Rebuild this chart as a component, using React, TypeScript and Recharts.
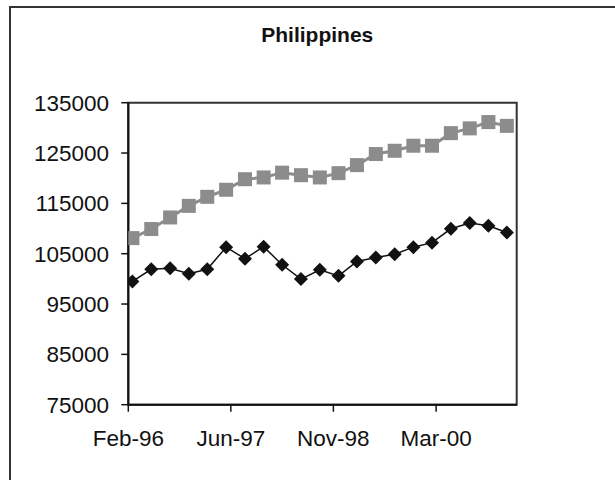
import React from "react"
import { LineChart, Line, XAxis, YAxis, ReferenceArea } from "recharts"

// quarterly observations; the first one sits just left of the axis start
const quarters = [
  "1995-12", "1996-03", "1996-06", "1996-09", "1996-12",
  "1997-03", "1997-06", "1997-09", "1997-12",
  "1998-03", "1998-06", "1998-09", "1998-12",
  "1999-03", "1999-06", "1999-09", "1999-12",
  "2000-03", "2000-06", "2000-09", "2000-12",
  "2001-03",
]

const graySeries = [
  106200, 108100, 109900, 112200, 114500,
  116300, 117700, 119800, 120150,
  121100, 120600, 120150, 121000,
  122600, 124800, 125450, 126450,
  126450, 128950, 129900, 131150,
  130400,
]

const blackSeries = [
  96600, 99500, 101900, 102100, 101000,
  101900, 106300, 104000, 106400,
  102800, 99950, 101800, 100600,
  103450, 104250, 104900, 106300,
  107200, 109950, 111100, 110550,
  109200,
]

const tickLabels = ["Feb-96", "Jun-97", "Nov-98", "Mar-00"]
const tickDates = ["1996-02-10", "1997-06-24", "1998-11-06", "2000-03-21"]
const yTicks = [75000, 85000, 95000, 105000, 115000, 125000, 135000]

const axisStart = Date.parse("1996-02-10")
const axisEnd = Date.parse("2001-04-18")
const tickValues = tickDates.map((d) => Date.parse(d))

const data = quarters.map((q, i) => ({
  t: Date.parse(q + "-01"),
  gray: graySeries[i],
  black: blackSeries[i],
}))

const GRAY = "#8c8c8c"
const INK = "#111"
const FONT = "'Liberation Sans', Arial, sans-serif"

const Square = (props: any) => {
  const { cx, cy, index, payload } = props
  if (cx == null || payload.t < axisStart) return <g key={`sq-${index}`} />
  return <rect key={`sq-${index}`} x={cx - 7} y={cy - 7} width={14} height={14} fill={GRAY} />
}

const Diamond = (props: any) => {
  const { cx, cy, index, payload } = props
  if (cx == null || payload.t < axisStart) return <g key={`dm-${index}`} />
  const r = 7
  return (
    <polygon
      key={`dm-${index}`}
      points={`${cx},${cy - r} ${cx + r},${cy} ${cx},${cy + r} ${cx - r},${cy}`}
      fill={INK}
    />
  )
}

export default function App() {
  return (
    <div style={{ position: "absolute", left: 0, top: 0, width: 615, height: 480, overflow: "hidden", background: "#fff" }}>
      <div
        style={{
          position: "absolute",
          left: 9,
          top: 6,
          width: 700,
          height: 600,
          borderLeft: "2px solid #333",
          borderTop: "2px solid #333",
        }}
      />
      <div style={{ position: "absolute", left: 0, top: 0 }}>
        <LineChart width={615} height={480} data={data} margin={{ top: 102.7, right: 98.3, bottom: 15.3, left: 0 }}>
          <ReferenceArea
            x1={axisStart}
            x2={axisEnd}
            y1={75000}
            y2={135000}
            fill="none"
            stroke="#333"
            strokeWidth={2}
            ifOverflow="visible"
          />
          <XAxis
            dataKey="t"
            type="number"
            domain={[axisStart, axisEnd]}
            allowDataOverflow
            ticks={tickValues}
            interval={0}
            tickFormatter={(v: number) => tickLabels[tickValues.indexOf(v)] ?? ""}
            height={60}
            tickSize={7}
            tickMargin={18}
            axisLine={{ stroke: INK, strokeWidth: 2 }}
            tickLine={{ stroke: INK, strokeWidth: 1.5 }}
            tick={{ fill: INK, fontSize: 22.5, fontFamily: FONT }}
          />
          <YAxis
            type="number"
            domain={[75000, 135000]}
            ticks={yTicks}
            interval={0}
            width={128.3}
            tickSize={7}
            tickMargin={12.3}
            axisLine={{ stroke: INK, strokeWidth: 2 }}
            tickLine={{ stroke: INK, strokeWidth: 1.5 }}
            tick={{ fill: INK, fontSize: 22.5, fontFamily: FONT }}
          />
          <Line
            type="linear"
            dataKey="gray"
            stroke={GRAY}
            strokeWidth={3}
            dot={Square}
            activeDot={false}
            isAnimationActive={false}
          />
          <Line
            type="linear"
            dataKey="black"
            stroke={INK}
            strokeWidth={1.5}
            dot={Diamond}
            activeDot={false}
            isAnimationActive={false}
          />
        </LineChart>
      </div>
      <svg width={615} height={480} style={{ position: "absolute", left: 0, top: 0, pointerEvents: "none" }}>
        <text x={317.3} y={41.7} textAnchor="middle" fontFamily={FONT} fontWeight="bold" fontSize={21} fill={INK}>
          Philippines
        </text>
      </svg>
    </div>
  )
}
